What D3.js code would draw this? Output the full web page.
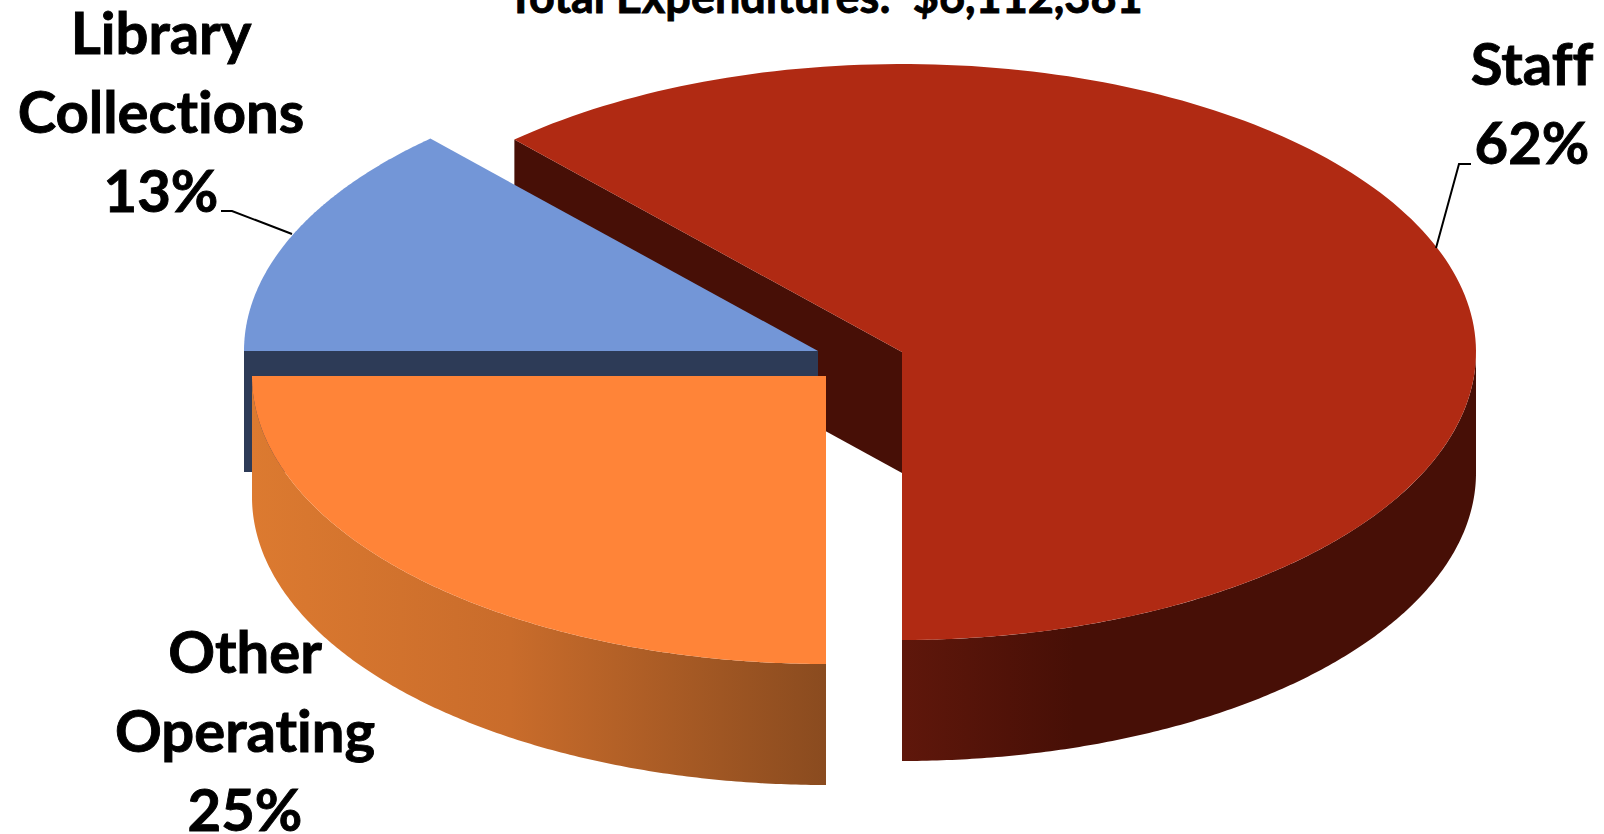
<!DOCTYPE html>
<html>
<head>
<meta charset="utf-8">
<script src="https://cdn.jsdelivr.net/npm/d3@7"></script>
<style>
  html, body { margin: 0; background: #fff; }
  text { font-family: Lato, "Noto Sans", sans-serif; font-weight: 700; fill: #000; stroke: #000; stroke-width: 0.9px; font-variant-ligatures: none; }
</style>
</head>
<body>
<div id="chart"></div>
<script>
const titleText = "Total Expenditures:  $6,112,381";
const categories = ["Staff", "Library Collections", "Other Operating"];
// slice sizes, labels round them
const shares = [61.8, 13.2, 25];

const width = 1604, height = 834;
const cx = 902, cy = 352, rx = 574, ry = 288, depth = 121;

const svg = d3.select("#chart").append("svg")
  .attr("width", width).attr("height", height)
  .style("display", "block");

// unit circle to pixels, tilted pie
const x = d3.scaleLinear().domain([0, 1]).range([0, rx]);
const y = d3.scaleLinear().domain([0, 1]).range([0, ry]);

// slices run clockwise on screen starting from straight down
const slices = d3.pie().sort(null).value(d => d)
  .startAngle(Math.PI).endAngle(-Math.PI)(shares);

const looks = [
  { top: "#b02a13", wall: "#470f06", offset: [0, 0] },
  { top: "#7396d7", wall: "#2d3b57", offset: [-84, -1] },
  { top: "#ff8438", wall: "#dc7a30", offset: [-76, 24] }
];

const px = a => x(Math.sin(a));
const py = a => y(-Math.cos(a));
const line = d3.line();
const pct = d3.format(".0f");

function rim(a0, a1) {
  const n = 180, pts = [];
  for (let i = 0; i <= n; i++) {
    const a = a0 + (a1 - a0) * i / n;
    pts.push([px(a), py(a)]);
  }
  return pts;
}

function topFace(s) {
  return line(rim(s.startAngle, s.endAngle).concat([[0, 0]])) + "Z";
}

function outerWall(a0, a1) {
  const upper = rim(a0, a1);
  const lower = upper.map(p => [p[0], p[1] + depth]).reverse();
  return line(upper.concat(lower)) + "Z";
}

function flatWall(a) {
  const ax = px(a), ay = py(a);
  return line([[0, 0], [ax, ay], [ax, ay + depth], [0, depth]]) + "Z";
}

const defs = svg.append("defs");
function gradient(id, x1, x2, stops) {
  const g = defs.append("linearGradient").attr("id", id)
    .attr("gradientUnits", "userSpaceOnUse")
    .attr("x1", x1).attr("x2", x2).attr("y1", 0).attr("y2", 0);
  stops.forEach(s => g.append("stop").attr("offset", s[0]).attr("stop-color", s[1]));
}
gradient("redWall", 0, rx, [[0, "#5f170b"], [0.3, "#470f06"], [1, "#470f06"]]);
gradient("orangeWall", -rx, 0, [[0, "#dc7a30"], [0.45, "#c96c2b"], [1, "#8a4b1f"]]);

const group = i => svg.append("g")
  .attr("transform", `translate(${cx + looks[i].offset[0]},${cy + looks[i].offset[1]})`);

// red first, the other two slices sit in front of its cut wall
const red = group(0);
red.append("path").attr("d", flatWall(slices[0].endAngle)).attr("fill", looks[0].wall);
red.append("path").attr("d", outerWall(Math.PI / 2, Math.PI)).attr("fill", "url(#redWall)");
red.append("path").attr("d", topFace(slices[0])).attr("fill", looks[0].top);

const blue = group(1);
blue.append("path").attr("d", flatWall(-Math.PI / 2)).attr("fill", looks[1].wall);
blue.append("path").attr("d", topFace(slices[1])).attr("fill", looks[1].top);

const orange = group(2);
orange.append("path").attr("d", outerWall(-Math.PI, -Math.PI / 2)).attr("fill", "url(#orangeWall)");
orange.append("path").attr("d", topFace(slices[2])).attr("fill", looks[2].top);

// leader lines
svg.append("path").attr("fill", "none").attr("stroke", "#000").attr("stroke-width", 2)
  .attr("d", line([[221, 211], [232, 211], [292, 234]]));
svg.append("path").attr("fill", "none").attr("stroke", "#000").attr("stroke-width", 2)
  .attr("d", line([[1436, 248], [1459, 164], [1471, 164]]));

// labels
function label(lines, lx, firstY) {
  const t = svg.append("text").attr("text-anchor", "middle").attr("font-size", 58);
  lines.forEach((s, i) => t.append("tspan").attr("x", lx).attr("y", firstY + i * 79).text(s));
}
label(["Library", "Collections", pct(shares[1]) + "%"], 161, 54);
label(["Staff", pct(shares[0]) + "%"], 1532, 85);
label(["Other", "Operating", pct(shares[2]) + "%"], 245, 673);

svg.append("text").attr("x", 825).attr("y", 13).attr("text-anchor", "middle")
  .attr("font-size", 45).style("white-space", "pre").text(titleText);
</script>
</body>
</html>
